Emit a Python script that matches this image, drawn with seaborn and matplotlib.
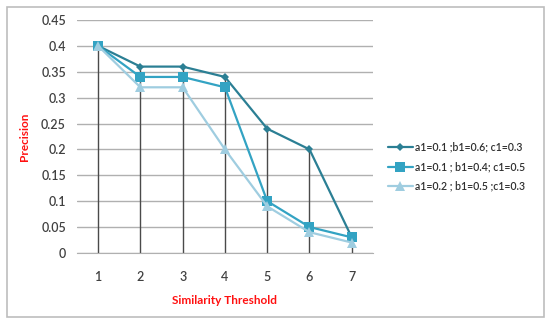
import matplotlib
matplotlib.use("Agg")
import matplotlib.pyplot as plt
import seaborn as sns
import pandas as pd
import numpy as np
from matplotlib.patches import Rectangle

thresholds = [1, 2, 3, 4, 5, 6, 7]
s1_name = "a1=0.1 ;b1=0.6; c1=0.3"
s2_name = "a1=0.1 ; b1=0.4; c1=0.5"
s3_name = "a1=0.2 ; b1=0.5 ;c1=0.3"
s1_vals = [0.40, 0.36, 0.36, 0.34, 0.24, 0.20, 0.03]
s2_vals = [0.40, 0.34, 0.34, 0.32, 0.10, 0.05, 0.03]
s3_vals = [0.40, 0.32, 0.32, 0.20, 0.09, 0.04, 0.02]
y_ticks = [0, 0.05, 0.1, 0.15, 0.2, 0.25, 0.3, 0.35, 0.4, 0.45]
y_tick_labels = ["0", "0.05", "0.1", "0.15", "0.2", "0.25", "0.3", "0.35", "0.4", "0.45"]

sns.set_style("white")
plt.rcParams['font.family'] = ['Lato', 'DejaVu Sans']

df = pd.DataFrame({
    "Threshold": thresholds * 3,
    "Precision": s1_vals + s2_vals + s3_vals,
    "Series": [s1_name] * 7 + [s2_name] * 7 + [s3_name] * 7,
})

fig = plt.figure(figsize=(5.5, 3.23), dpi=100)
ax = fig.add_axes([0.14, 0.217, 0.538, 0.721])

# outer frame
fig.patches.append(Rectangle((7 / 550, 6 / 323), 537 / 550, 310 / 323,
                             transform=fig.transFigure, fill=False,
                             edgecolor="#bdbdbd", linewidth=1.2))

ax.set_ylim(0, 0.45)
ax.set_xlim(0.5, 7.5)
ax.set_yticks(y_ticks)
ax.set_yticklabels(y_tick_labels)
ax.yaxis.grid(True, color="#b0b0b0", linewidth=1.0)
ax.set_axisbelow(True)

# drop lines
tops = np.max(np.array([s1_vals, s2_vals, s3_vals]), axis=0)
ax.vlines(thresholds, 0, tops, color="#4a4a4a", linewidth=1.0, zorder=1)

palette = {s1_name: "#2b7f94", s2_name: "#33a3c3", s3_name: "#9fcde0"}
markers = {s1_name: "D", s2_name: "s", s3_name: "^"}
sizes = {s1_name: 4.5, s2_name: 7, s3_name: 6.5}
for name in [s1_name, s2_name, s3_name]:
    sub = df[df["Series"] == name]
    sns.lineplot(data=sub, x="Threshold", y="Precision", ax=ax,
                 color=palette[name], marker=markers[name],
                 markersize=sizes[name], markeredgewidth=0,
                 linewidth=1.6, label=name, zorder=3)

ax.set_xticks(thresholds)
ax.set_xticklabels([str(t) for t in thresholds])
for s in ["top", "right", "left"]:
    ax.spines[s].set_visible(False)
ax.spines["bottom"].set_color("#b0b0b0")
ax.tick_params(axis="x", length=0, pad=13, labelsize=9, colors="#404040")
ax.tick_params(axis="y", length=0, pad=8, labelsize=9, colors="#404040")
for lbl in ax.get_xticklabels() + ax.get_yticklabels():
    lbl.set_fontweight("semibold")

ax.set_xlabel("Similarity Threshold", color="#ff1010", fontsize=8.5,
              fontweight="bold", labelpad=9)
ax.set_ylabel("Precision", color="#ff1010", fontsize=8.5,
              fontweight="bold", labelpad=8)

leg = ax.legend(loc="center left", bbox_to_anchor=(1.02, 0.37), frameon=False,
                fontsize=7.6, handlelength=2.3, handletextpad=0.2,
                labelspacing=0.8, labelcolor="#303030")
for t in leg.get_texts():
    t.set_fontweight("semibold")

fig.savefig("out.png", dpi=100)
